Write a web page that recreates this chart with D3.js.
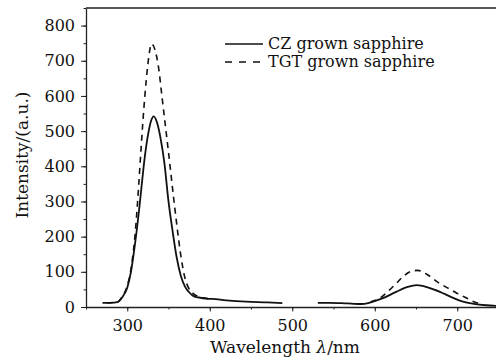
<!DOCTYPE html>
<html>
<head>
<meta charset="utf-8">
<script src="https://cdn.jsdelivr.net/npm/d3@7"></script>
<style>
  body { margin: 0; background: #fff; }
  svg { display: block; }
  .axis path, .axis line { stroke: #222; }
  .axis text { font-family: "DejaVu Serif", serif; font-size: 16px; fill: #111; }
  .lbl { font-family: "DejaVu Serif", serif; font-size: 17px; fill: #111; }
  .leg { font-family: "DejaVu Serif", serif; font-size: 16px; fill: #111; }
</style>
</head>
<body>
<div id="chart"></div>
<script>
// CZ grown sapphire, two measured ranges (gap between 490 and 530 nm)
var czWave = [270, 280, 288, 294, 300, 304.5, 310, 315, 319, 322, 326, 329, 332, 336, 340.5, 345, 350, 355, 360, 365, 370, 375, 381, 387, 395, 403, 420, 444, 470, 488,
              null,
              531, 545, 560, 575, 584, 592, 598, 610, 626, 640, 651, 665, 679, 693, 707, 720, 735, 750];
var czVal  = [12, 12, 14, 28, 55, 100, 190, 290, 380, 440, 500, 530, 542, 525, 478, 410, 300, 215, 140, 88, 58, 42, 30, 27, 24, 23, 19, 15, 13, 11,
              null,
              12, 12, 11, 9, 8.5, 11, 15, 25, 43, 57, 62, 55, 43, 28, 15, 9, 5, 3];

// TGT grown sapphire (dashed, shown where it departs from CZ)
var tgtWave = [275, 288, 294, 300, 305, 310, 314, 317, 321, 325, 329.5, 334, 338, 342, 346, 350, 355, 360, 365, 370, 374, 380, 386, 392, 400,
               null,
               595, 606, 615, 626, 635, 645, 652, 663, 678, 690, 699, 710, 720, 728];
var tgtVal  = [12, 14, 30, 60, 115, 220, 350, 460, 590, 690, 748, 728, 680, 600, 520, 440, 335, 235, 145, 82, 56, 38, 30, 26, 24,
               null,
               15, 25, 42, 67, 88, 102, 104, 93, 68, 52, 40, 27, 15, 9];

var xTicks = [300, 400, 500, 600, 700];
var yTicks = [0, 100, 200, 300, 400, 500, 600, 700, 800];
var legendNames = ["CZ grown sapphire", "TGT grown sapphire"];

var W = 496, H = 359;
var margin = {top: 8, left: 86},
    plotW = 412.5,
    plotH = 299;

var svg = d3.select("#chart").append("svg")
    .attr("width", W)
    .attr("height", H);

var x = d3.scaleLinear().domain([250, 750]).range([margin.left, margin.left + plotW]);
var y = d3.scaleLinear().domain([0, 850]).range([margin.top + plotH, margin.top]);

function pts(ws, vs) {
  return ws.map(function(w, i) { return {w: w, v: vs[i]}; });
}

var line = d3.line()
    .defined(function(d) { return d.w != null; })
    .x(function(d) { return x(d.w); })
    .y(function(d) { return y(d.v); })
    .curve(d3.curveMonotoneX);

// minor ticks
var minorX = d3.range(250, 751, 50), minorY = d3.range(0, 851, 50);
svg.append("g").attr("class", "axis")
    .attr("transform", "translate(0," + y(0) + ")")
    .call(d3.axisBottom(x).tickValues(minorX).tickSize(2.5).tickFormat(""))
    .select(".domain").remove();
svg.append("g").attr("class", "axis")
    .attr("transform", "translate(" + margin.left + ",0)")
    .call(d3.axisLeft(y).tickValues(minorY).tickSize(2.5).tickFormat(""))
    .select(".domain").remove();

// major axes
svg.append("g").attr("class", "axis")
    .attr("transform", "translate(0," + y(0) + ")")
    .call(d3.axisBottom(x).tickValues(xTicks).tickSize(4.5).tickPadding(8).tickSizeOuter(0));
svg.append("g").attr("class", "axis")
    .attr("transform", "translate(" + margin.left + ",0)")
    .call(d3.axisLeft(y).tickValues(yTicks).tickSize(5).tickPadding(6).tickSizeOuter(0));

svg.selectAll(".domain").attr("stroke-width", 1.3);

// top border
svg.append("line")
    .attr("x1", margin.left).attr("x2", margin.left + plotW)
    .attr("y1", y(850)).attr("y2", y(850))
    .attr("stroke", "#222").attr("stroke-width", 1.3);

// curves
svg.append("path")
    .datum(pts(tgtWave, tgtVal))
    .attr("d", line)
    .attr("fill", "none")
    .attr("stroke", "#111")
    .attr("stroke-width", 1.6)
    .attr("stroke-dasharray", "6,5");

svg.append("path")
    .datum(pts(czWave, czVal))
    .attr("d", line)
    .attr("fill", "none")
    .attr("stroke", "#111")
    .attr("stroke-width", 1.8);

// legend
var leg = svg.append("g");
legendNames.forEach(function(name, i) {
  var ly = 44 + i * 18;
  leg.append("line")
      .attr("x1", 225).attr("x2", 263)
      .attr("y1", ly).attr("y2", ly)
      .attr("stroke", "#111")
      .attr("stroke-width", 1.5)
      .attr("stroke-dasharray", i === 0 ? null : "7,7");
  leg.append("text")
      .attr("class", "leg")
      .attr("x", 268)
      .attr("y", ly + 5)
      .text(name);
});

// axis titles
var xt = svg.append("text")
    .attr("class", "lbl")
    .attr("x", 285)
    .attr("y", 353)
    .attr("text-anchor", "middle");
xt.append("tspan").text("Wavelength ");
xt.append("tspan").attr("font-style", "italic").text("λ");
xt.append("tspan").text("/nm");

svg.append("text")
    .attr("class", "lbl")
    .attr("transform", "translate(28," + 155 + ") rotate(-90)")
    .attr("text-anchor", "middle")
    .text("Intensity/(a.u.)");
</script>
</body>
</html>
